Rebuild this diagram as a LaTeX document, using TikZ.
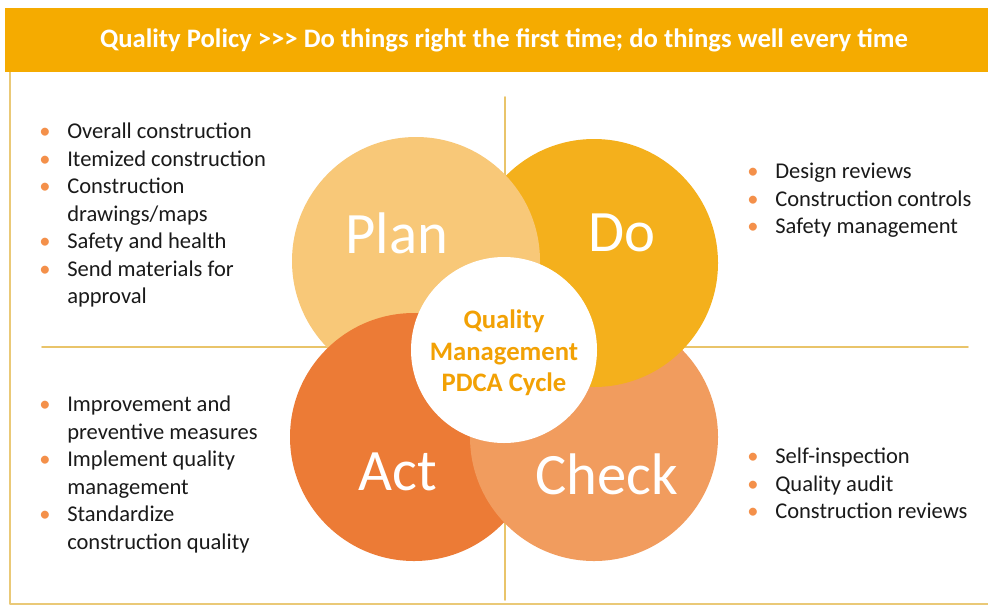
\documentclass[tikz,border=0pt]{standalone}
\usepackage{fontspec}
\setmainfont{Carlito}
\usepackage{tikz}
\usetikzlibrary{positioning}

\definecolor{headc}{HTML}{F5AB00}
\definecolor{framec}{HTML}{EAC977}
\definecolor{linec}{HTML}{E9C46A}
\definecolor{planc}{HTML}{F8C878}
\definecolor{doc}{HTML}{F4B01C}
\definecolor{actc}{HTML}{EC7B36}
\definecolor{checkc}{HTML}{F19C5E}
\definecolor{corec}{HTML}{F2A104}
\definecolor{bulc}{HTML}{F4904A}
\definecolor{textc}{HTML}{1A1A1A}

\newcommand{\bul}{\makebox[21pt][l]{\textcolor{bulc}{\textbullet}}}
\newcommand{\ind}{\hspace*{21pt}}

\tikzset{
  wheel/.style={circle, minimum size=186pt, inner sep=0pt},
  bigword/.style={text=white, font=\fontsize{44}{50}\selectfont},
  itemlist/.style={anchor=north west, align=left, inner sep=0pt, text=textc,
    font=\fontsize{16.9}{20.6}\selectfont},
  crossline/.style={color=linec, line width=1.2pt}
}

\begin{document}
\begin{tikzpicture}[x=0.75pt,y=-0.75pt, line cap=round,line join=round]
\useasboundingbox (0,0) rectangle (988,608);
\fill[white] (0,0) rectangle (988,608);
% frame and heading
\draw[framec, line width=1.5pt] (10,72) -- (10,604) -- (988,604);
\fill[headc] (5,8) rectangle (988,72);
\node[text=white, font=\bfseries\fontsize{20}{24}\selectfont] (head) at (504,40)
  {Quality Policy >{}>{}> Do things right the first time; do things well every time};

\coordinate (crosstop) at (505,97);
\coordinate (crossbot) at (505,600);
\coordinate (crossleft) at (42,347);
\coordinate (crossright) at (968,347);
\draw[crossline] (crosstop) -- (crossbot);
\draw[crossline] (crossleft) -- (crossright);

% the four circles
\node[wheel, fill=planc] (plan) at (416,261) {};
\node[wheel, fill=actc] (act) at (414,437) {};
\node[wheel, fill=checkc] (check) at (594,437) {};
\node[wheel, fill=doc] (do) at (594,263) {};
\begin{scope}
\clip (do.center) circle (94.5pt);
\fill[planc] (plan.center) circle (93pt);
\end{scope}

\node[bigword] (plantxt) at ([shift={(-19,-28)}]plan.center) {Plan};
\node[bigword] (dotxt) at ([shift={(28,-30)}]do.center) {Do};
\node[bigword] (acttxt) at ([shift={(-16,35)}]act.center) {Act};
\node[bigword] (checktxt) at ([shift={(13,37)}]check.center) {Check};

\node[circle, fill=white, minimum size=139.5pt, inner sep=0pt] (core) at (504,350) {};
\node[align=center, text=corec, font=\bfseries\fontsize{20}{23.6}\selectfont] (coretxt)
  at ([shift={(0,3)}]core.center) {Quality\\Management\\PDCA Cycle};

% lists
\node[itemlist] (planlist) at (39,123) {\bul Overall construction\\ \bul Itemized construction\\
  \bul Construction\\ \ind drawings/maps\\ \bul Safety and health\\
  \bul Send materials for\\ \ind approval};
\node[itemlist] (dolist) at (747,163) {\bul Design reviews\\ \bul Construction controls\\
  \bul Safety management};
\node[itemlist] (actlist) at (39,396) {\bul Improvement and\\ \ind preventive measures\\
  \bul Implement quality\\ \ind management\\ \bul Standardize\\ \ind construction quality};
\node[itemlist] (checklist) at (747,448) {\bul Self-inspection\\ \bul Quality audit\\
  \bul Construction reviews};
\end{tikzpicture}
\end{document}
